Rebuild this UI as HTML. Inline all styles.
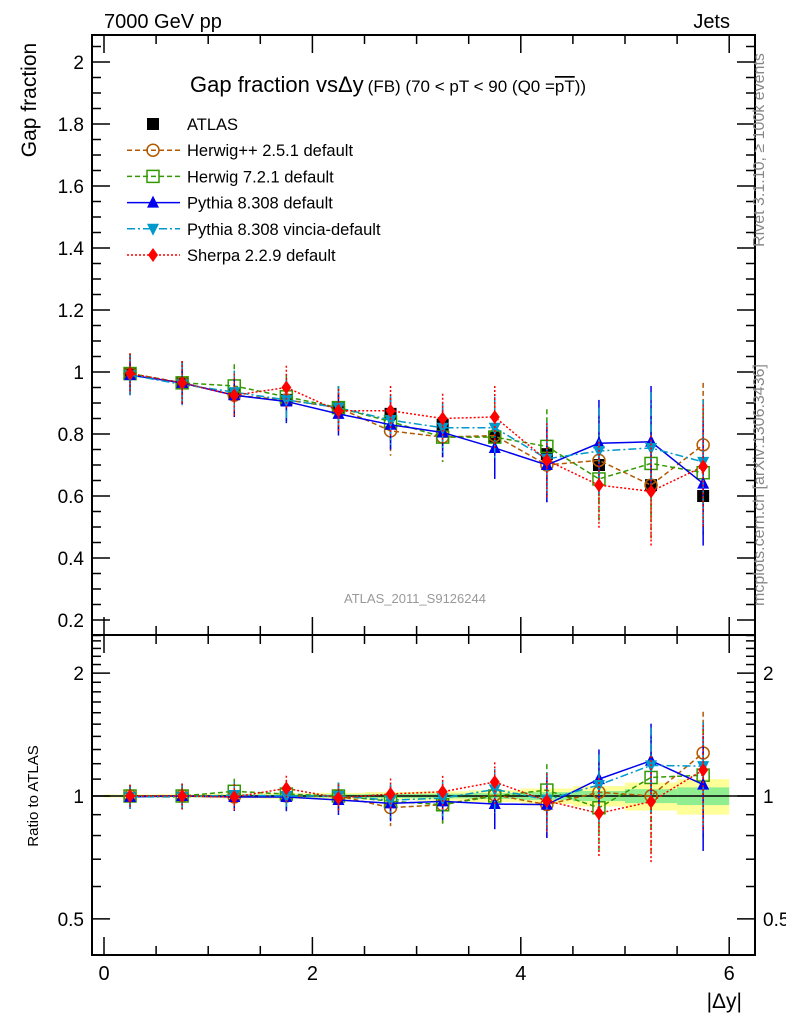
<!DOCTYPE html>
<html><head><meta charset="utf-8"><style>
body{margin:0;background:#fff;}
svg{display:block;font-family:"Liberation Sans",sans-serif;}
</style></head><body>
<svg id="c" width="786" height="1024" viewBox="0 0 786 1024">
<rect width="786" height="1024" fill="#fff"/>
<g id="plot"></g>
<text x="104" y="28" font-size="20">7000 GeV pp</text>
<text x="730" y="28" font-size="20" text-anchor="end">Jets</text>
<text x="190" y="92" font-size="22">Gap fraction vs<tspan>Δy</tspan><tspan font-size="17" dx="4">(FB) (70 &lt; pT &lt;  90 (Q0 =<tspan text-decoration="overline">pT</tspan>))</tspan></text>
<text x="36" y="100" font-size="21" transform="rotate(-90 36 100)" text-anchor="middle">Gap fraction</text>
<text x="38" y="796" font-size="15" transform="rotate(-90 38 796)" text-anchor="middle">Ratio to ATLAS</text>
<text x="742" y="1008" font-size="21" text-anchor="end">|Δy|</text>
<text x="415" y="603" font-size="13" fill="#999" text-anchor="middle">ATLAS_2011_S9126244</text>
<text x="764" y="150" font-size="16" fill="#888" transform="rotate(-90 764 150)" text-anchor="middle">Rivet 3.1.10, ≥ 100k events</text>
<text x="764" y="485" font-size="16" fill="#888" transform="rotate(-90 764 485)" text-anchor="middle">mcplots.cern.ch [arXiv:1306.3436]</text>
</svg>
<script>
const xCenters=[0.25,0.75,1.25,1.75,2.25,2.75,3.25,3.75,4.25,4.75,5.25,5.75];
const atlasVals=[0.995,0.965,0.93,0.91,0.885,0.865,0.83,0.79,0.735,0.70,0.635,0.60];
const atlasErr=[0.004,0.005,0.006,0.007,0.008,0.01,0.011,0.013,0.016,0.02,0.025,0.03];
const herwigppVals=[0.995,0.965,0.925,0.91,0.885,0.81,0.79,0.795,0.70,0.715,0.635,0.765];
const herwig7Vals=[0.995,0.965,0.955,0.92,0.885,0.84,0.79,0.79,0.76,0.655,0.705,0.675];
const pythiaVals=[0.99,0.965,0.925,0.905,0.865,0.83,0.805,0.755,0.70,0.77,0.775,0.64];
const vinciaVals=[0.99,0.96,0.935,0.91,0.885,0.845,0.82,0.82,0.72,0.745,0.755,0.71];
const sherpaVals=[0.995,0.965,0.925,0.95,0.875,0.875,0.85,0.855,0.715,0.635,0.615,0.695];
const mcErr=[0.065,0.07,0.07,0.07,0.07,0.08,0.08,0.1,0.12,0.14,0.18,0.2];
const yTicks=[0.2,0.4,0.6,0.8,1,1.2,1.4,1.6,1.8,2];
const xTicks=[0,2,4,6];
const rTicks=[0.5,1,2];

const NS="http://www.w3.org/2000/svg";
const g=document.getElementById('plot');
const L=92,R=755,T1=35,B1=635,T2=635,B2=955;
const sx=v=>104+v*104.2;
const sy=v=>372-310*(v-1);
const sr=v=>796-408*Math.log10(v);
function el(t,a,p){const e=document.createElementNS(NS,t);for(const k in a)e.setAttribute(k,a[k]);(p||g).appendChild(e);return e;}

const bandG=el('g',{});


xCenters.forEach((x,i)=>{
  const r=atlasErr[i]/atlasVals[i];
  el('rect',{x:sx(x-0.25),width:sx(0.5)-sx(0),y:sr(1+2*r),height:sr(1-2*r)-sr(1+2*r),fill:'#ffff99'},bandG);
  el('rect',{x:sx(x-0.25),width:sx(0.5)-sx(0),y:sr(1+r),height:sr(1-r)-sr(1+r),fill:'#90ee90'},bandG);
});
el('line',{x1:L,x2:R,y1:sr(1),y2:sr(1),stroke:'#000','stroke-width':1.5});

const f1=el('rect',{x:L,y:T1,width:R-L,height:B1-T1,fill:'none',stroke:'#000','stroke-width':2});


const f2=el('rect',{x:L,y:T2,width:R-L,height:B2-T2,fill:'none',stroke:'#000','stroke-width':2});



for(let v=0.15;v<=2.09;v+=0.05){
  const vv=Math.round(v*100)/100;const maj=Math.abs(vv*5-Math.round(vv*5))<1e-6;
  const len=maj?18:9;
  el('line',{x1:L,x2:L+len,y1:sy(vv),y2:sy(vv),stroke:'#000','stroke-width':1.5});
  el('line',{x1:R,x2:R-len,y1:sy(vv),y2:sy(vv),stroke:'#000','stroke-width':1.5});
}
yTicks.forEach(v=>{const t=el('text',{x:L-8,y:sy(v)+7,'font-size':19,'text-anchor':'end'});t.textContent=String(v);

});
[0.5,0.6,0.7,0.8,0.9,1,1.1,1.2,1.3,1.4,1.5,1.6,1.7,1.8,1.9,2,2.1,2.2,2.3,2.4].forEach(v=>{
  const maj=rTicks.includes(v);const len=maj?18:9;
  el('line',{x1:L,x2:L+len,y1:sr(v),y2:sr(v),stroke:'#000','stroke-width':1.5});
  el('line',{x1:R,x2:R-len,y1:sr(v),y2:sr(v),stroke:'#000','stroke-width':1.5});
});
rTicks.forEach(v=>{const t=el('text',{x:L-8,y:sr(v)+7,'font-size':19,'text-anchor':'end'});t.textContent=String(v);


const t2=el('text',{x:R+8,y:sr(v)+7,'font-size':19});t2.textContent=String(v);

});
for(let v=0;v<=6;v+=0.5){const maj=v%2===0;const len=maj?18:9;
  [[B1,-1],[T1,1],[B2,-1],[T2,1]].forEach(([y,d])=>el('line',{x1:sx(v),x2:sx(v),y1:y,y2:y+d*len,stroke:'#000','stroke-width':1.5}));}
xTicks.forEach(v=>{const t=el('text',{x:sx(v),y:980,'font-size':20,'text-anchor':'middle'});t.textContent=String(v);

});

function marker(type,x,y,color,parent){
  if(type==='sq')el('rect',{x:x-6,y:y-6,width:12,height:12,fill:'#000'},parent);
  if(type==='circ')el('circle',{cx:x,cy:y,r:6,fill:'none',stroke:color,'stroke-width':1.5},parent);
  if(type==='osq')el('rect',{x:x-6,y:y-6,width:12,height:12,fill:'none',stroke:color,'stroke-width':1.5},parent);
  if(type==='tri')el('polygon',{points:`${x},${y-7} ${x-6},${y+5} ${x+6},${y+5}`,fill:color},parent);
  if(type==='itri')el('polygon',{points:`${x},${y+7} ${x-6},${y-5} ${x+6},${y-5}`,fill:color},parent);
  if(type==='dia')el('polygon',{points:`${x},${y-7} ${x-5},${y} ${x},${y+7} ${x+5},${y}`,fill:color},parent);
}
const series=[
 {name:'herwigpp-series',vals:herwigppVals,color:'#b35900',dash:'5,3',m:'circ'},
 {name:'herwig7-series',vals:herwig7Vals,color:'#339900',dash:'5,3',m:'osq'},
 {name:'pythia-series',vals:pythiaVals,color:'#0000ee',dash:'',m:'tri'},
 {name:'vincia-series',vals:vinciaVals,color:'#0099cc',dash:'8,3,2,3',m:'itri'},
 {name:'sherpa-series',vals:sherpaVals,color:'#ff0000',dash:'2,2',m:'dia'}
];
function drawSeries(s,fy,ratio){
  const sg=el('g',{});
  
  
  const pts=[];
  xCenters.forEach((x,i)=>{
    let v=s.vals[i],e=mcErr[i];
    if(ratio){e=e/atlasVals[i];v=v/atlasVals[i];}
    const px=sx(x);
    el('line',{x1:px,x2:px,y1:fy(v+e),y2:fy(Math.max(v-e,0.05)),stroke:s.color,'stroke-width':1.5,'stroke-dasharray':s.dash},sg);
    pts.push(px+','+fy(v));
  });
  el('polyline',{points:pts.join(' '),fill:'none',stroke:s.color,'stroke-width':1.5,'stroke-dasharray':s.dash},sg);
  xCenters.forEach((x,i)=>{let v=s.vals[i];if(ratio)v/=atlasVals[i];marker(s.m,sx(x),fy(v),s.color,sg);});
}
const ag=el('g',{});


xCenters.forEach((x,i)=>{el('line',{x1:sx(x),x2:sx(x),y1:sy(atlasVals[i]+atlasErr[i]),y2:sy(atlasVals[i]-atlasErr[i]),stroke:'#000','stroke-width':1.5},ag);marker('sq',sx(x),sy(atlasVals[i]),'#000',ag);});
series.forEach(s=>drawSeries(s,sy,false));
series.forEach(s=>drawSeries(s,sr,true));

const legend=[['ATLAS','sq','#000',null],['Herwig++ 2.5.1 default','circ','#b35900','5,3'],['Herwig 7.2.1 default','osq','#339900','5,3'],['Pythia 8.308 default','tri','#0000ee',''],['Pythia 8.308 vincia-default','itri','#0099cc','8,3,2,3'],['Sherpa 2.2.9 default','dia','#ff0000','2,2']];
legend.forEach((l,i)=>{
  const y=124+i*26.2;
  const lg=el('g',{});
  
  
  if(l[3]!==null)el('line',{x1:127,x2:180,y1:y,y2:y,stroke:l[2],'stroke-width':1.5,'stroke-dasharray':l[3]},lg);
  marker(l[1],153,y,l[2],lg);
  const t=el('text',{x:187,y:y+6,'font-size':16.5},lg);t.textContent=l[0];
});
</script>
</body></html>
